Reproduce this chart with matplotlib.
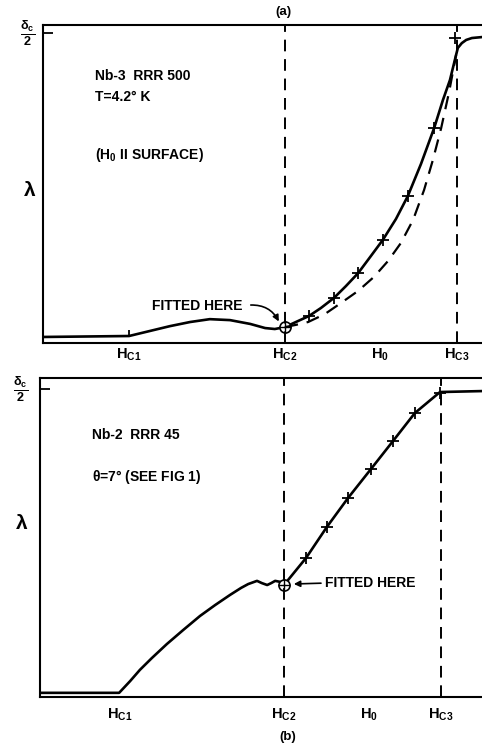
import matplotlib
matplotlib.use('Agg')
import matplotlib.pyplot as plt

plt.rcParams['font.family'] = ['Liberation Sans', 'DejaVu Sans']
plt.rcParams['mathtext.fontset'] = 'custom'
plt.rcParams['mathtext.rm'] = 'Liberation Sans:bold'
plt.rcParams['mathtext.it'] = 'DejaVu Sans:bold:italic'
plt.rcParams['mathtext.bf'] = 'Liberation Sans:bold'
plt.rcParams['mathtext.default'] = 'rm'

# ---- panel (a) data: field (x) vs lambda (y), arbitrary units 0..10
a_field = [0, 1.96, 2.44, 2.89, 3.35, 3.80, 4.26, 4.72, 5.06, 5.28, 5.51,
           5.76, 6.06, 6.33, 6.63, 6.90, 7.18, 7.45, 7.74, 8.04, 8.31, 8.61,
           8.91, 9.11, 9.27, 9.41, 9.45, 9.54, 9.64, 9.77, 10]
a_lam = [0.19, 0.22, 0.38, 0.53, 0.66, 0.75, 0.72, 0.60, 0.47, 0.44, 0.50,
         0.66, 0.85, 1.10, 1.42, 1.79, 2.20, 2.70, 3.24, 3.90, 4.62, 5.63,
         6.76, 7.64, 8.27, 9.06, 9.28, 9.43, 9.53, 9.59, 9.62]
a_calc_field = [5.51, 5.76, 6.04, 6.42, 6.79, 7.18, 7.54, 7.86, 8.15, 8.43,
                8.68, 8.88, 9.07, 9.25, 9.41]
a_calc_lam = [0.50, 0.57, 0.66, 0.91, 1.26, 1.64, 2.08, 2.58, 3.14, 3.87,
              4.81, 5.75, 6.76, 7.89, 9.06]
a_pts_field = [6.06, 6.63, 7.18, 7.74, 8.31, 8.91, 9.38]
a_pts_lam = [0.85, 1.42, 2.20, 3.24, 4.62, 6.76, 9.59]
a_fit = (5.51, 0.50)
a_hc = [1.96, 5.51, 9.43]   # H_C1, H_C2, H_C3
a_h0 = 7.68
a_half = 9.75

# ---- panel (b) data
b_field = [0, 1.79, 2.04, 2.26, 2.53, 2.87, 3.24, 3.62, 3.96, 4.30, 4.55,
           4.71, 4.91, 5.02, 5.14, 5.23, 5.32, 5.43, 5.52, 6.02, 6.49,
           6.97, 7.49, 7.99, 8.48, 9.05, 10]
b_lam = [0.13, 0.13, 0.50, 0.85, 1.22, 1.66, 2.10, 2.54, 2.88, 3.20, 3.42,
         3.54, 3.64, 3.57, 3.51, 3.57, 3.64, 3.61, 3.51, 4.36, 5.33,
         6.24, 7.15, 8.03, 8.90, 9.56, 9.59]
b_pts_field = [6.02, 6.49, 6.97, 7.49, 7.99, 8.48, 9.05]
b_pts_lam = [4.36, 5.33, 6.24, 7.15, 8.03, 8.90, 9.53]
b_fit = (5.52, 3.51)
b_hc = [1.81, 5.52, 9.07]
b_h0 = 7.44
b_half = 9.66

hc_labels = [r'$H_{C1}$', r'$H_{C2}$', r'$H_{C3}$']

fig = plt.figure(figsize=(4.82, 7.46), dpi=100)
ax1 = fig.add_axes([0.0892, 0.5402, 0.9108, 0.4263])
ax2 = fig.add_axes([0.0830, 0.0657, 0.9170, 0.4276])


def frame(ax, half):
    ax.set_xlim(0, 10)
    ax.set_ylim(0, 10)
    ax.spines['right'].set_visible(False)
    for s in ['left', 'top', 'bottom']:
        ax.spines[s].set_linewidth(1.5)
    ax.set_xticks([])
    ax.set_yticks([half])
    ax.set_yticklabels([])
    ax.tick_params(axis='y', direction='in', length=7, width=1.3)


def draw(ax, fx, fy, px, py, fit, hc, h0, half, lab_y):
    frame(ax, half)
    ax.plot(fx, fy, color='black', lw=1.9, solid_capstyle='round', solid_joinstyle='round')
    ax.plot(px, py, ls='none', marker='+', ms=8, mew=1.3, color='black')
    ax.plot(*fit, marker='o', ms=8, mfc='white', mec='black', mew=1.2)
    ax.plot(*fit, marker='+', ms=8, mew=1.0, color='black')
    for x in hc[1:]:
        ax.axvline(x, color='black', lw=1.4, ls=(0, (6, 4)))
    for x, t in zip(hc, hc_labels):
        ax.text(x, lab_y, t, ha='center', va='center', fontsize=10.5, clip_on=False)
    ax.text(h0, lab_y, r'$H_0$', ha='center', va='center', fontsize=10.5, clip_on=False)


draw(ax1, a_field, a_lam, a_pts_field, a_pts_lam, a_fit, a_hc, a_h0, a_half, -0.38)
ax1.plot(a_calc_field, a_calc_lam, color='black', lw=1.6, ls=(0, (6, 4)))
ax1.plot(a_hc[0], a_lam[1] + 0.08, marker='|', ms=5, mew=1.3, color='black')
ax1.text(-0.36, a_half, r'$\frac{\delta_c}{2}$', ha='center', va='center', fontsize=13, clip_on=False)
ax1.text(-0.30, 4.81, r'$\lambda$', ha='center', va='center', fontsize=15, clip_on=False)
ax1.text(5.47, 10.41, '(a)', ha='center', va='center', fontsize=9.5, fontweight='bold', clip_on=False)
ax1.text(1.18, 8.40, 'Nb-3  RRR 500', ha='left', va='center', fontsize=10, fontweight='bold')
ax1.text(1.18, 7.74, 'T=4.2° K', ha='left', va='center', fontsize=10, fontweight='bold')
ax1.text(1.18, 5.91, r'(H$_0$ II SURFACE)', ha='left', va='center', fontsize=10, fontweight='bold')
ax1.text(2.48, 1.16, 'FITTED HERE', ha='left', va='center', fontsize=10, fontweight='bold')
ax1.annotate('', xy=(5.40, 0.60), xytext=(4.67, 1.19),
             arrowprops=dict(arrowstyle='-|>', color='black', lw=1.2,
                             connectionstyle='arc3,rad=-0.35', mutation_scale=9))

draw(ax2, b_field, b_lam, b_pts_field, b_pts_lam, b_fit, b_hc, b_h0, b_half, -0.56)
ax2.text(-0.45, b_half, r'$\frac{\delta_c}{2}$', ha='center', va='center', fontsize=13, clip_on=False)
ax2.text(-0.41, 5.45, r'$\lambda$', ha='center', va='center', fontsize=15, clip_on=False)
ax2.text(5.61, -1.25, '(b)', ha='center', va='center', fontsize=9.5, fontweight='bold', clip_on=False)
ax2.text(1.18, 8.21, 'Nb-2  RRR 45', ha='left', va='center', fontsize=10, fontweight='bold')
ax2.text(1.18, 6.90, r'$\theta$=7° (SEE FIG 1)', ha='left', va='center', fontsize=10, fontweight='bold')
ax2.text(6.45, 3.57, 'FITTED HERE', ha='left', va='center', fontsize=10, fontweight='bold')
ax2.annotate('', xy=(5.68, 3.54), xytext=(6.42, 3.57),
             arrowprops=dict(arrowstyle='-|>', color='black', lw=1.2, mutation_scale=9))

fig.savefig('out.png', dpi=100)
